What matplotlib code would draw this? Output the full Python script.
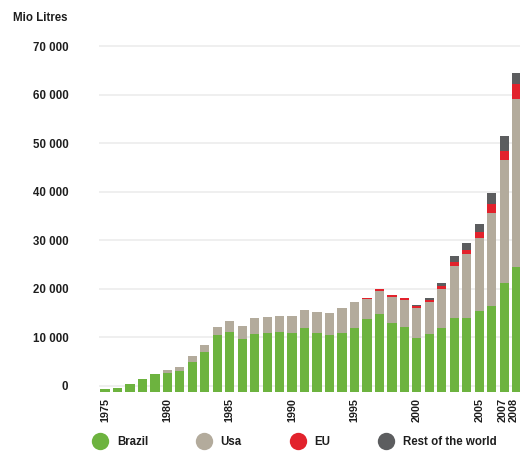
import matplotlib.pyplot as plt
import matplotlib.transforms as mtransforms
from matplotlib.lines import Line2D
import numpy as np

# World ethanol production, million litres
years = list(range(1975, 2009))
brazil = [600, 700, 1500, 2600, 3600, 3900, 4200, 6000, 8100, 11600,
          12300, 10900, 11900, 12000, 12300, 12100, 13100, 12000, 11700, 12000,
          13000, 14900, 15900, 14200, 13400, 11100, 11900, 13000, 15100, 15100,
          16600, 17700, 22400, 25700]
usa = [0, 0, 0, 0, 0, 550, 900, 1350, 1450, 1700,
       2200, 2600, 3200, 3300, 3350, 3550, 3700, 4300, 4550, 5300,
       5500, 4150, 4800, 5250, 5500, 6100, 6650, 8150, 10800, 13200,
       15100, 19200, 25300, 34700]
eu = [0] * 21 + [300, 400, 350, 400, 350, 350, 700, 820, 900, 1100, 1800, 1900, 2900]
rest = [0] * 25 + [300, 350, 550, 1150, 1400, 1700, 2300, 3000, 2400]

series_names = ["Brazil", "Usa", "EU", "Rest of the world"]
colors = ["#6db33f", "#b3ab9c", "#e2222c", "#5c5d5f"]

tick_years = [1975, 1980, 1985, 1990, 1995, 2000, 2005, 2007, 2008]
y_ticks = [0, 10000, 20000, 30000, 40000, 50000, 60000, 70000]


def fmt(v):
    return f"{v:,}".replace(",", " ")


plt.rcParams['font.family'] = ['Liberation Sans', 'DejaVu Sans']
plt.rcParams['font.weight'] = 'bold'
plt.rcParams['font.size'] = 8.3
plt.rcParams['text.color'] = '#1e1e1e'

fig = plt.figure(figsize=(5.2, 4.51), dpi=100)
ax = fig.add_axes([0.1904, 0.1319, 0.8096, 0.7743])

bottom = np.zeros(len(years))
for vals, color, name in zip([brazil, usa, eu, rest], colors, series_names):
    ax.bar(years, vals, width=0.74, bottom=bottom, color=color, label=name, zorder=2)
    bottom += np.array(vals)

ax.set_xlim(1974.52, 2008.27)
ax.set_ylim(0, 72000)
ax.set_yticks(y_ticks)
ax.set_yticklabels([fmt(v) for v in y_ticks])
ax.set_xticks(tick_years)
ax.set_xticklabels([str(y) for y in tick_years], rotation=90, fontsize=7.8)
ax.tick_params(axis='both', length=0, colors='#1e1e1e')
ax.tick_params(axis='y', pad=22)
ax.tick_params(axis='x', pad=4.5)
ax.grid(axis='y', color='#eeeeee', lw=1.3, zorder=0)
ax.set_axisbelow(True)
for s in ax.spines.values():
    s.set_visible(False)

# labels and grid sit a few pixels above the bar baseline
shift = mtransforms.ScaledTranslation(0, 0.06, fig.dpi_scale_trans)
for lab in ax.get_yticklabels():
    lab.set_transform(lab.get_transform() + shift)
for gl in ax.get_ygridlines():
    gl.set_transform(gl.get_transform() + shift)

# squeeze the last two year labels inside the figure
xlabs = ax.get_xticklabels()
for lab, dx in [(xlabs[-2], -0.015), (xlabs[-1], -0.03)]:
    lab.set_transform(lab.get_transform() +
                      mtransforms.ScaledTranslation(dx, 0, fig.dpi_scale_trans))

fig.text(13 / 520, 1 - 18 / 451, "Mio Litres", ha='left', va='center',
         fontweight='bold')

handles = [Line2D([], [], marker='o', ls='', markersize=12.5, color=c,
                  markeredgewidth=0) for c in colors]
fig.legend(handles, series_names, loc='center left', ncol=4,
           bbox_to_anchor=(0.178, 0.02), frameon=False, borderpad=0,
           borderaxespad=0, handlelength=1.3, handletextpad=0.8,
           columnspacing=4.2)

fig.savefig("out.png", dpi=100)
